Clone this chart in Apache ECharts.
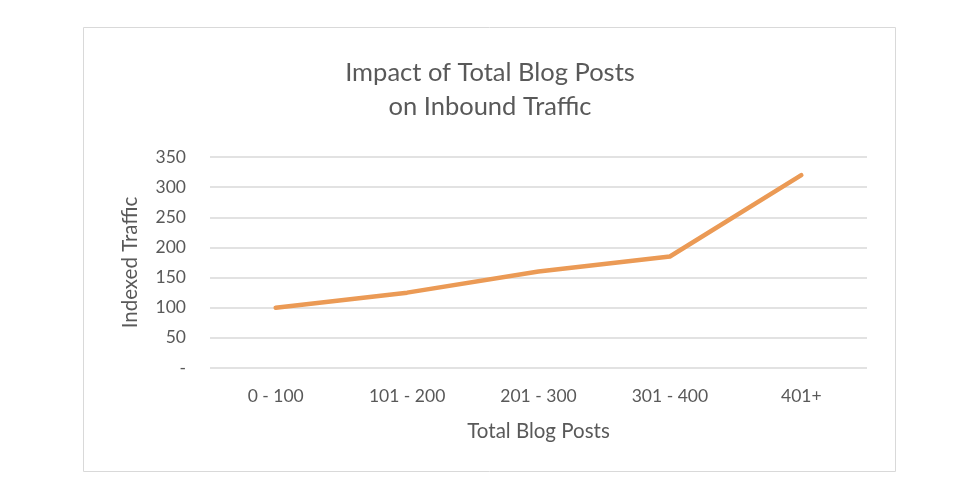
<!DOCTYPE html>
<html>
<head>
<meta charset="utf-8">
<script src="https://cdn.jsdelivr.net/npm/echarts@6/dist/echarts.min.js"></script>
<style>
  html, body { margin: 0; padding: 0; background: #fff; }
  #chart { width: 980px; height: 500px; }
</style>
</head>
<body>
<div id="chart"></div>
<script>
// data
const categories = ['0 - 100', '101 - 200', '201 - 300', '301 - 400', '401+']
const traffic = [100, 125, 160, 185, 320]
const yTicks = { min: 0, max: 350, interval: 50 }

const font = 'Lato, "Open Sans", sans-serif'
const textColor = '#595959'

const chart = echarts.init(document.getElementById('chart'))
chart.setOption({
    animation: false,
    title: {
        text: 'Impact of Total Blog Posts\non Inbound Traffic',
        left: 'center',
        top: 51,
        textStyle: {
            fontFamily: font,
            fontWeight: 'normal',
            fontSize: 25.5,
            lineHeight: 34,
            color: textColor
        }
    },
    graphic: [{
        type: 'rect',
        shape: { x: 83.5, y: 27.5, width: 812, height: 444 },
        style: { fill: 'none', stroke: '#d9d9d9', lineWidth: 1 },
        silent: true
    }],
    grid: { left: 210, right: 113, top: 157, bottom: 132 },
    xAxis: {
        type: 'category',
        data: categories,
        name: 'Total Blog Posts',
        nameLocation: 'middle',
        nameGap: 53,
        nameTextStyle: { fontFamily: font, fontSize: 20.5, color: textColor },
        axisLine: { show: false },
        axisTick: { show: false },
        axisLabel: { fontFamily: font, fontSize: 17.5, color: textColor, margin: 19 }
    },
    yAxis: {
        type: 'value',
        min: yTicks.min,
        max: yTicks.max,
        interval: yTicks.interval,
        name: 'Indexed Traffic',
        nameLocation: 'middle',
        nameGap: 69,
        nameTextStyle: { fontFamily: font, fontSize: 20.5, color: textColor },
        axisLine: { show: false },
        axisTick: { show: false },
        axisLabel: {
            fontFamily: font,
            fontSize: 17.5,
            color: textColor,
            margin: 24,
            formatter: v => v === 0 ? '-' : v
        },
        splitLine: { lineStyle: { color: '#d9d9d9', width: 1.5 } }
    },
    series: [{
        type: 'line',
        data: traffic,
        symbol: 'none',
        lineStyle: { color: '#eb9a55', width: 4.5, cap: 'round', join: 'round' }
    }]
})
</script>
</body>
</html>
